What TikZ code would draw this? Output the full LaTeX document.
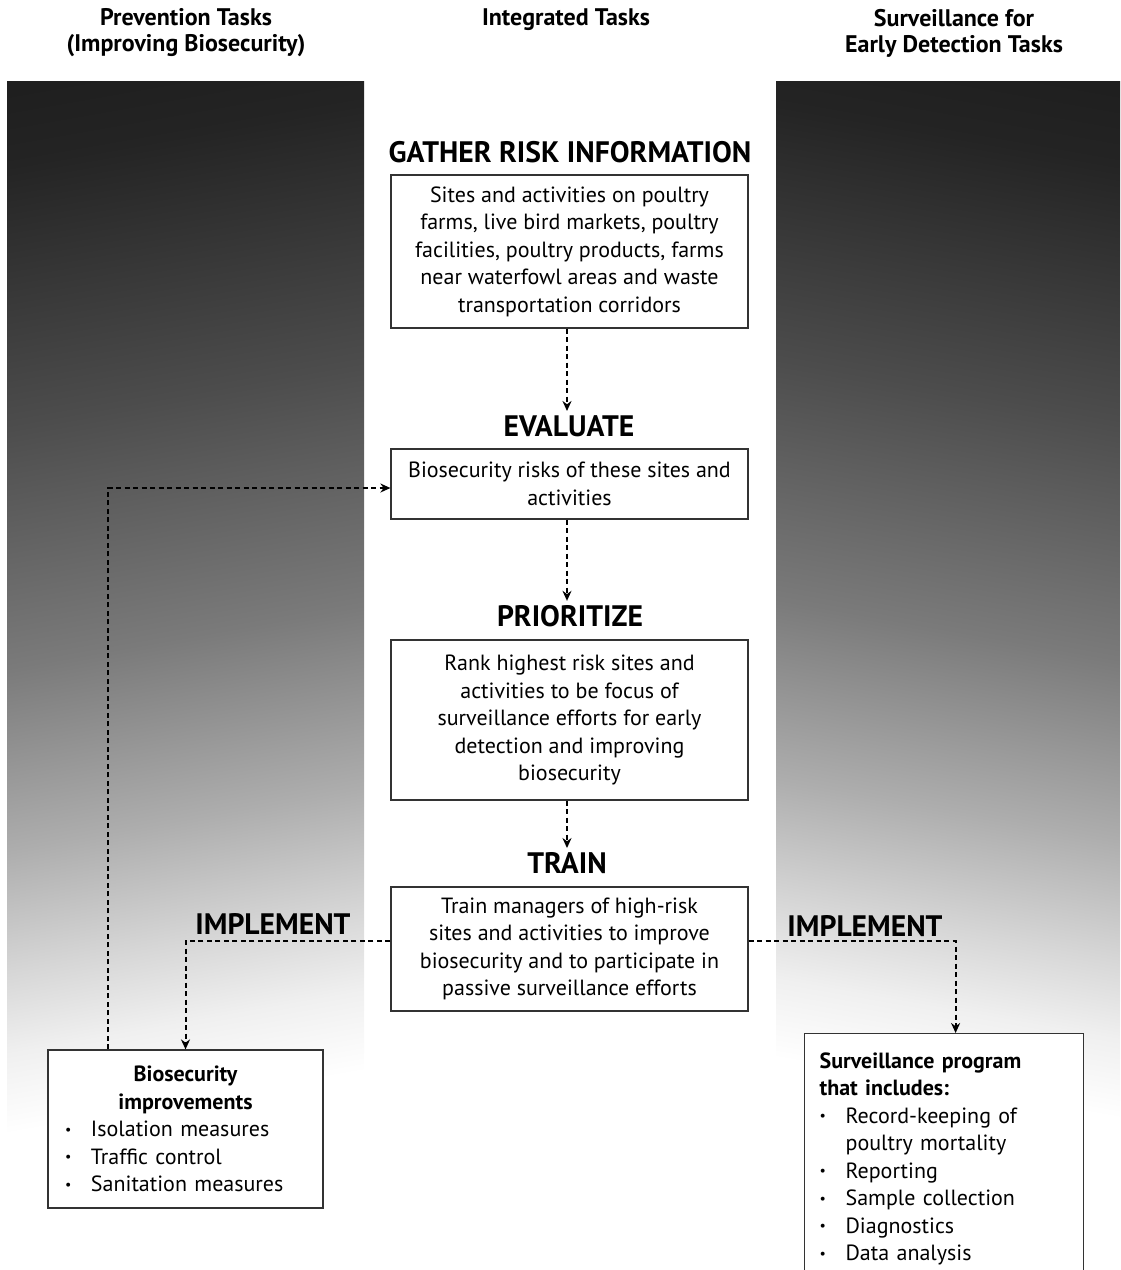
\documentclass[tikz,border=0pt]{standalone}
\usepackage{fontspec}
\setmainfont{PT Sans}
\usetikzlibrary{positioning,arrows.meta,calc}
\def\BoxWidth{178.5pt}
\newcommand\bitem{\makebox[13pt][l]{\raisebox{1.2pt}{\fontsize{7}{7}\selectfont\textbullet}}}
\pgfdeclareverticalshading{panelshade}{100bp}{color(0bp)=(white); color(27bp)=(white);
  color(31bp)=(black!6); color(35bp)=(black!16); color(41bp)=(black!32);
  color(50bp)=(black!52); color(62bp)=(black!70); color(75bp)=(black!86);
  color(85bp)=(black!91); color(100bp)=(black!91)}
\tikzset{
  panel/.style={shading=panelshade, draw=none},
  colhead/.style={font=\bfseries\fontsize{12}{13}\selectfont, align=center},
  taskhead/.style={font=\bfseries\fontsize{14.8}{17}\selectfont, inner sep=2pt},
  taskbox/.style={draw=black!80, line width=0.6pt, fill=white, minimum width=\BoxWidth,
    align=center, font=\fontsize{11}{13.75}\selectfont},
  listbox/.style={draw=black!80, line width=0.6pt, fill=white,
    font=\fontsize{11}{13.75}\selectfont},
  flow/.style={line width=1pt, dash pattern=on 2.5pt off 1.75pt, -{Stealth[length=5pt,width=4.5pt]}},
}
\begin{document}
\begin{tikzpicture}[x=0.5pt,y=-0.5pt]
  \useasboundingbox (0,0) rectangle (1120,1270);
  \clip (0,0) rectangle (1120,1270);
  % shaded side panels
  \shade[panel, shading angle=10] (7,81) rectangle (364,1195);
  \shade[panel, shading angle=-10] (776,81) rectangle (1120,1180);
  % column headings
  \node[colhead] (prevhead) at (186,33) {Prevention Tasks\\(Improving Biosecurity)};
  \node[colhead] (inthead) at (566,20) {Integrated Tasks};
  \node[colhead] (survhead) at (954,33) {Surveillance for\\Early Detection Tasks};
  \coordinate (spine) at (567,0);
  % 
  \node[taskhead] (gatherhead) at (570,152) {GATHER RISK INFORMATION};
  \node[taskbox, minimum height=76.5pt] (gatherbox) at (569.5,251.5)
    {Sites and activities on poultry\\farms, live bird markets, poultry\\facilities, poultry products, farms\\near waterfowl areas and waste\\transportation corridors};
  % 
  \node[taskhead] (evalhead) at (569,426) {EVALUATE};
  \node[taskbox, minimum height=35pt] (evalbox) at (569.5,484)
    {Biosecurity risks of these sites and\\activities};
  % 
  \node[taskhead] (priohead) at (570,616) {PRIORITIZE};
  \node[taskbox, minimum height=80pt] (priobox) at (569.5,720)
    {Rank highest risk sites and\\activities to be focus of\\surveillance efforts for early\\detection and improving\\biosecurity};
  % 
  \node[taskhead] (trainhead) at (567,863) {TRAIN};
  \node[taskbox, minimum height=62pt] (trainbox) at (569.5,949)
    {Train managers of high-risk\\sites and activities to improve\\biosecurity and to participate in\\passive surveillance efforts};
  % 
  \node[taskhead] (implleft) at (273,924) {IMPLEMENT};
  \node[taskhead] (implright) at (865,926) {IMPLEMENT};
  % 
  \node[listbox, minimum width=137.5pt, minimum height=79pt, text width=120.5pt,
    inner xsep=8.5pt] (biobox) at (185.5,1129)
    {{\centering\bfseries Biosecurity\\improvements\par}\raggedright
     \bitem Isolation measures\\\bitem Traffic control\\\bitem Sanitation measures};
  \node[listbox, minimum width=139.5pt, text width=124.5pt, inner xsep=7.5pt,
    inner ysep=9.5pt, align=left, anchor=north west] (survbox) at (804,1033)
    {\textbf{Surveillance program}\\\textbf{that includes:}\\
     \bitem Record-keeping of\\\hspace*{13pt}poultry mortality\\\bitem Reporting\\
     \bitem Sample collection\\\bitem Diagnostics\\\bitem Data analysis\\\strut};
  % 
  \draw[flow] (spine |- gatherbox.south) -- (spine |- evalhead.north);
  \draw[flow] (spine |- evalbox.south) -- (spine |- priohead.north);
  \draw[flow] (spine |- priobox.south) -- (spine |- trainhead.north);
  \draw[flow] ([yshift=4pt]trainbox.west) -| (biobox.north);
  \draw[flow] ([yshift=4pt]trainbox.east) -| ([xshift=5.75pt]survbox.north);
  \draw[flow] ([xshift=-38.75pt]biobox.north) |- ([yshift=-2pt]evalbox.west);
\end{tikzpicture}
\end{document}
